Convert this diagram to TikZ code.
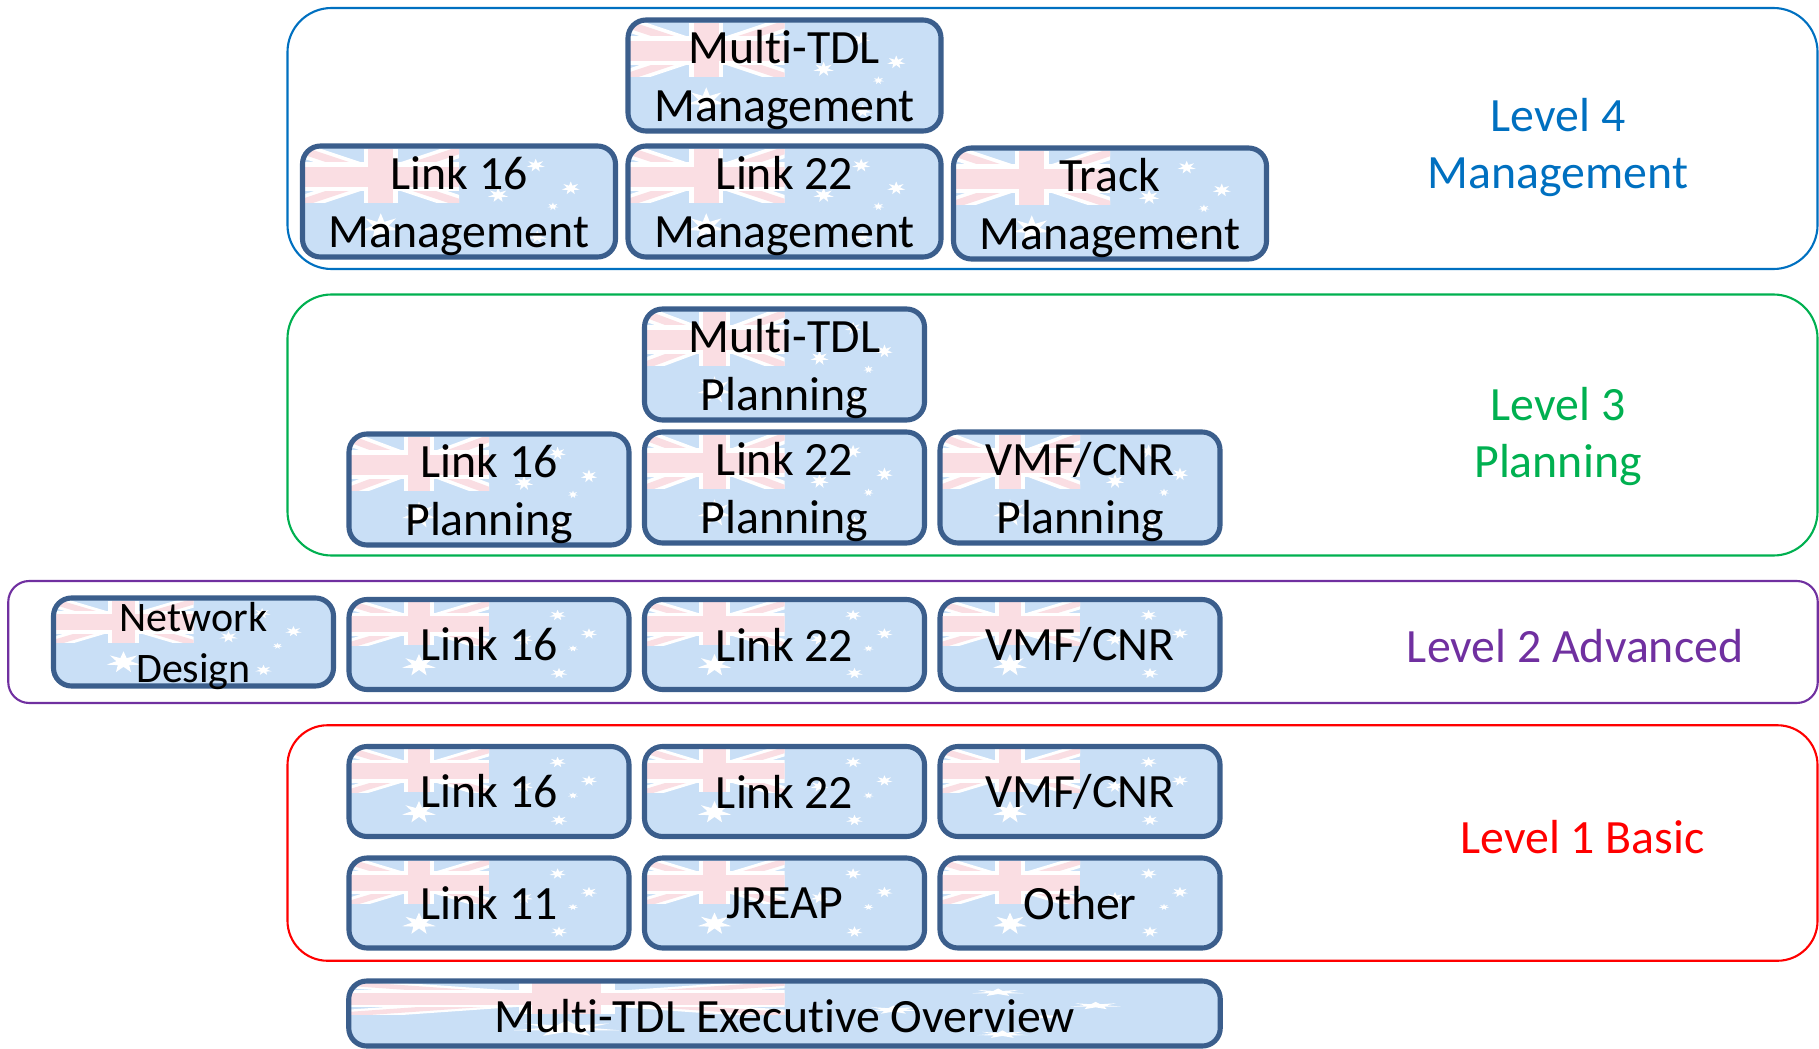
\documentclass[tikz,border=0pt]{standalone}
\usepackage{fontspec}
\setmainfont[Ligatures=NoCommon]{Carlito}
\usepackage{xcolor}
\usetikzlibrary{positioning, calc}
\definecolor{boxedge}{HTML}{3B5E8C}
\definecolor{flagblue}{HTML}{C9DFF6}
\definecolor{flagpink}{HTML}{FADEE3}
\definecolor{lvlblue}{HTML}{0070C0}
\definecolor{lvlgreen}{HTML}{00B050}
\definecolor{lvlpurple}{HTML}{7030A0}
\definecolor{lvlred}{HTML}{FF0000}
% white star of the flag, in box fractions: x, y, radius
\newcommand{\flagstar}[3]{\fill[white] plot[samples at={0,...,13},variable=\a] ({#1+#3*cos(\a*360/14+90)*ifthenelse(mod(\a,2)==0,1,0.42)},{#2+2*#3*sin(\a*360/14+90)*ifthenelse(mod(\a,2)==0,1,0.42)}) -- cycle;}
\newcommand{\flagfill}{%
\pgfpointdiff{\pgfpointanchor{path picture bounding box}{south west}}{\pgfpointanchor{path picture bounding box}{north east}}%
\pgfgetlastxy{\flagw}{\flagh}%
\begin{scope}[sharp corners,x=\flagw,y=\flagh]
\pgftransformshift{\pgfpointanchor{path picture bounding box}{south west}}
\begin{scope}
\clip (0,0.49) rectangle (0.5,0.97);
\fill[white] (0,1.03) -- (0,0.89) -- (0.5,0.42) -- (0.5,0.56) -- cycle;
\fill[white] (0,0.42) -- (0,0.56) -- (0.5,1.03) -- (0.5,0.89) -- cycle;
\fill[flagpink] (0,0.995) -- (0,0.925) -- (0.5,0.455) -- (0.5,0.525) -- cycle;
\fill[flagpink] (0,0.455) -- (0,0.525) -- (0.5,0.995) -- (0.5,0.925) -- cycle;
\fill[white] (0.195,0.49) rectangle (0.305,0.97);
\fill[white] (0,0.595) rectangle (0.5,0.855);
\fill[flagpink] (0.21,0.49) rectangle (0.29,0.97);
\fill[flagpink] (0,0.635) rectangle (0.5,0.815);
\end{scope}
\flagstar{0.745}{0.825}{0.03}
\flagstar{0.857}{0.62}{0.03}
\flagstar{0.625}{0.557}{0.033}
\flagstar{0.80}{0.455}{0.018}
\flagstar{0.75}{0.18}{0.03}
\flagstar{0.25}{0.27}{0.062}
\end{scope}}
% pushes the text of a box down a little
\newcommand{\flagstrut}[1]{\rule{0pt}{#1}\ignorespaces}

\tikzstyle{flagbox} = [rectangle, rounded corners=0.36cm, draw=boxedge, line width=2.9pt, fill=flagblue, inner sep=0pt, align=center, text=black, font=\fontsize{27.2}{32.9}\selectfont, path picture={\flagfill}]
\tikzstyle{widebox} = [flagbox, minimum width=6.26cm, minimum height=2.22cm]
\tikzstyle{tallbox} = [flagbox, minimum width=5.6cm, minimum height=2.22cm]
\tikzstyle{flatbox} = [flagbox, minimum width=5.6cm, minimum height=1.8cm]
\tikzstyle{execbox} = [flagbox, minimum width=17.43cm, minimum height=1.3cm]
\tikzstyle{levelbox} = [rectangle, rounded corners=0.88cm, line width=1.2pt, minimum width=30.6cm]
\tikzstyle{leveltext} = [inner sep=0pt, align=center, font=\fontsize{27.2}{32.9}\selectfont]

\begin{document}
\begin{tikzpicture}[node distance=5.91cm]
\node (level4) [levelbox, draw=lvlblue, minimum height=5.22cm] at (21.05,-2.77) {};
\node (level3) [levelbox, draw=lvlgreen, minimum height=5.22cm] at (21.05,-8.5) {};
\node (level2) [levelbox, draw=lvlpurple, rounded corners=0.42cm, minimum width=36.19cm, minimum height=2.44cm] at (18.26,-12.84) {};
\node (level1) [levelbox, draw=lvlred, rounded corners=0.8cm, minimum height=4.71cm] at (21.05,-16.86) {};

\node (mgmtmulti) [widebox] at (15.69,-1.51) {\flagstrut{0.85cm}Multi-TDL\\Management};
\node (mgmtlink22) [widebox, below of=mgmtmulti, yshift=3.39cm] {\flagstrut{0.85cm}Link 22\\Management};
\node (mgmtlink16) [widebox, left of=mgmtlink22, xshift=-0.6cm] {\flagstrut{0.85cm}Link 16\\Management};
\node (mgmttrack) [widebox, right of=mgmtlink22, xshift=0.6cm, yshift=-0.04cm] {\flagstrut{0.85cm}Track\\Management};

\node (planmulti) [tallbox, below of=mgmtmulti, yshift=0.13cm] {\flagstrut{0.85cm}Multi-TDL\\Planning};
\node (planlink22) [tallbox, below of=planmulti, yshift=3.45cm] {\flagstrut{0.85cm}Link 22\\Planning};
\node (planlink16) [tallbox, left of=planlink22, yshift=-0.04cm] {\flagstrut{0.85cm}Link 16\\Planning};
\node (planvmf) [tallbox, right of=planlink22] {\flagstrut{0.85cm}VMF/CNR\\Planning};

\node (advlink22) [flatbox, below of=planlink22, yshift=2.77cm] {Link 22};
\node (advlink16) [flatbox, left of=advlink22] {Link 16};
\node (advvmf) [flatbox, right of=advlink22] {VMF/CNR};
\node (advnet) [flatbox, left of=advlink16, yshift=0.05cm, minimum height=1.76cm, inner ysep=-0.15cm, font=\fontsize{23.9}{29}\selectfont] {\flagstrut{0.75cm}Network\\Design};

\node (basiclink22) [flatbox, below of=advlink22, yshift=2.97cm] {Link 22};
\node (basiclink16) [flatbox, left of=basiclink22] {Link 16};
\node (basicvmf) [flatbox, right of=basiclink22] {VMF/CNR};
\node (basicjreap) [flatbox, below of=basiclink22, yshift=3.68cm] {JREAP};
\node (basiclink11) [flatbox, left of=basicjreap] {Link 11};
\node (basicother) [flatbox, right of=basicjreap] {Other};

\node (exec) [execbox, below of=basicjreap, yshift=3.70cm] {\flagstrut{0.77cm}Multi-TDL Executive Overview};

\node (level4text) [leveltext, text=lvlblue] at (31.16,-2.95) {Level 4\\Management};
\node (level3text) [leveltext, text=lvlgreen] at (31.16,-8.73) {Level 3\\Planning};
\node (level2text) [leveltext, text=lvlpurple] at (31.5,-12.93) {Level 2 Advanced};
\node (level1text) [leveltext, text=lvlred] at (31.65,-16.74) {Level 1 Basic};

\pgfresetboundingbox
\useasboundingbox (0,0) rectangle (36.38,-20.96);
\end{tikzpicture}
\end{document}
